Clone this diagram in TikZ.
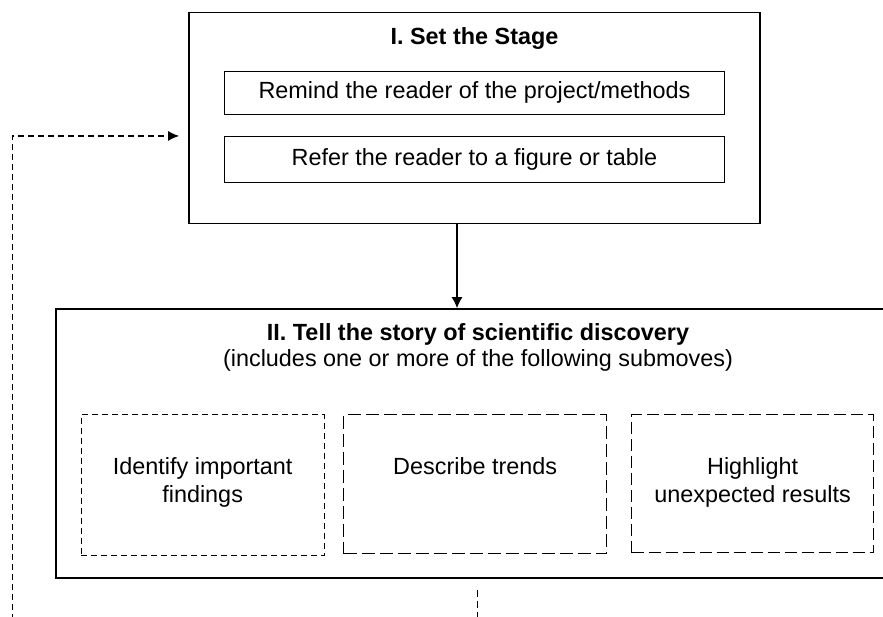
\documentclass[tikz,border=0pt]{standalone}
\usepackage{fontspec}
\setmainfont{Liberation Sans}
\usetikzlibrary{positioning, arrows.meta}
\tikzstyle{stagebox} = [rectangle, draw=black, line width=1.7pt, inner sep=0pt]
\tikzstyle{innerbox} = [rectangle, draw=black, line width=1.3pt, minimum width=500pt, inner sep=0pt]
\tikzstyle{submove} = [rectangle, draw=black, line width=1.3pt, inner sep=0pt, anchor=north west]
\tikzstyle{aro} = [-{Latex[length=11pt,width=11pt]}, line width=1.3pt]
\tikzstyle{fback} = [line width=1.4pt, dash pattern=on 6pt off 4pt]

\begin{document}
\begin{tikzpicture}[x=1pt, y=-1pt, font=\fontsize{23.4}{28}\selectfont]
  \useasboundingbox (0,0) rectangle (883,616);

  % I. set the stage
  \node (stage) [stagebox, minimum width=571pt, minimum height=211pt] at (474.5,118) {};
  \node (stagettl) at (474.5,38) {\bfseries I. Set the Stage};
  \node (remind) [innerbox, minimum height=43pt, below=59pt of stage.north] {Remind the reader of the project/methods};
  \node (refer) [innerbox, minimum height=46pt, below=21pt of remind] {Refer the reader to a figure or table};

  % II. tell the story
  \node (tell) [stagebox, minimum width=843pt, minimum height=269pt] at (477.5,443.5) {};
  \node (tellttl) [align=center, font=\fontsize{23.4}{26}\selectfont] at (478,347)
    {\bfseries II. Tell the story of scientific discovery\\(includes one or more of the following submoves)};

  \node (findings) [submove, dash pattern=on 6pt off 4pt] at (80.5,414)
    {\parbox[c][141pt][t]{243pt}{\centering\vspace*{43pt}Identify important\\findings}};
  \node (trends) [submove, dash pattern=on 13pt off 5pt] at (343,414)
    {\parbox[c][139pt][t]{263pt}{\centering\vspace*{43pt}Describe trends}};
  \node (unexp) [submove, dash pattern=on 12pt off 5pt] at (631,414)
    {\parbox[c][138pt][t]{242pt}{\centering\vspace*{43pt}Highlight\\unexpected results}};

  % connectors
  \coordinate (drop) at ([xshift=-17.5pt]stage.south);
  \draw [aro] (drop) -- (drop |- tell.north);

  \coordinate (backin) at (12.4,620);
  \draw [fback, -{Latex[length=11pt,width=10pt]}, shorten >=9pt] (backin) |- (stage.west |- refer.north);

  \coordinate (tellout) at (477.5,620);
  \draw [fback, dash pattern=on 7pt off 4pt] ([yshift=-11pt]tell.south) -- (tellout);

\end{tikzpicture}
\end{document}
